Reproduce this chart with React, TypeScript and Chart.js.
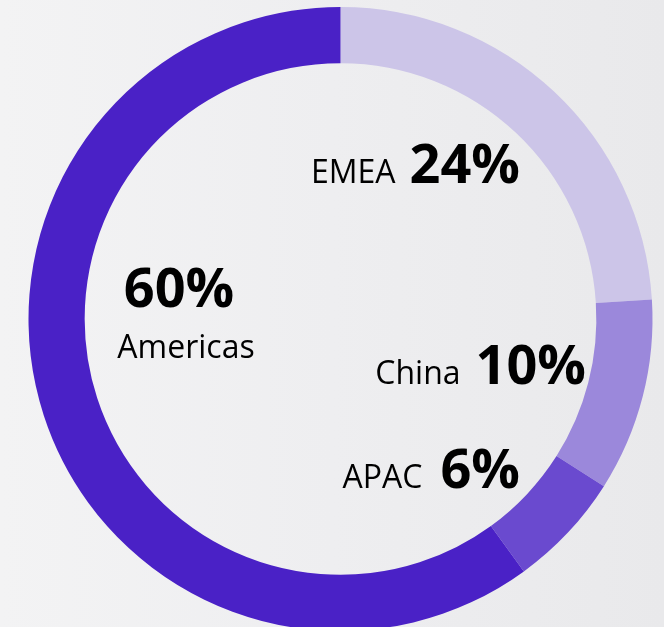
import React, { useEffect, useRef } from 'react';
import { Chart, registerables } from 'chart.js';

Chart.register(...registerables);

// ---- data ----
const regions = ['EMEA', 'China', 'APAC', 'Americas'];
const shares = [24, 10, 6, 60];
const sliceColors = ['#ccc5e8', '#9b88db', '#6a4acf', '#4a21c6'];

// label placement relative to doughnut centre (styling only)
const FONT = '"Open Sans", "Noto Sans", sans-serif';

export default function App() {
  const ref = useRef<HTMLCanvasElement>(null);

  useEffect(() => {
    if (!ref.current) return;

    const labelPlugin = {
      id: 'regionLabels',
      afterDraw(chart: any) {
        const ctx = chart.ctx as CanvasRenderingContext2D;
        const { left, right, top, bottom } = chart.chartArea;
        const cx = (left + right) / 2;
        const cy = (top + bottom) / 2;
        const bold = `bold 54px ${FONT}`;
        const reg = `32px ${FONT}`;
        ctx.save();
        ctx.fillStyle = '#000000';
        ctx.textBaseline = 'alphabetic';

        // right-side rows: name + percent on one line
        const rows: { idx: number; dx: number; dy: number; gap: number }[] = [
          { idx: 0, dx: 179.5, dy: -136, gap: 14 },
          { idx: 1, dx: 245.5, dy: 65, gap: 15 },
          { idx: 2, dx: 179.5, dy: 169, gap: 18 },
        ];
        rows.forEach((r) => {
          const pct = `${shares[r.idx]}%`;
          ctx.font = bold;
          ctx.textAlign = 'right';
          const w = ctx.measureText(pct).width;
          ctx.fillText(pct, cx + r.dx, cy + r.dy);
          ctx.font = reg;
          ctx.fillText(regions[r.idx], cx + r.dx - w - r.gap, cy + r.dy);
        });

        // Americas: percent above name
        ctx.textAlign = 'center';
        ctx.font = bold;
        ctx.fillText(`${shares[3]}%`, cx - 161.5, cy - 12);
        ctx.font = reg;
        ctx.fillText(regions[3], cx - 154.5, cy + 39);
        ctx.restore();
      },
    };

    const chart = new Chart(ref.current, {
      type: 'doughnut',
      data: {
        labels: regions,
        datasets: [
          {
            data: shares,
            backgroundColor: sliceColors,
            borderWidth: 0,
            hoverOffset: 0,
          },
        ],
      },
      options: {
        responsive: false,
        animation: false,
        cutout: '82%',
        rotation: 0,
        layout: { padding: { left: 17, right: 0, top: 7, bottom: 7 } },
        plugins: {
          legend: { display: false },
          tooltip: { enabled: false },
        },
        events: [],
      },
      plugins: [labelPlugin],
    });
    return () => chart.destroy();
  }, []);

  return (
    <div
      style={{
        position: 'fixed',
        left: 0,
        top: 0,
        width: 664,
        height: 627,
        overflow: 'hidden',
        background: 'linear-gradient(to right, #f3f3f4 0%, #eeeef0 50%, #e9e9eb 100%)',
      }}
    >
      <canvas ref={ref} width={664} height={638} style={{ display: 'block' }} />
    </div>
  );
}
